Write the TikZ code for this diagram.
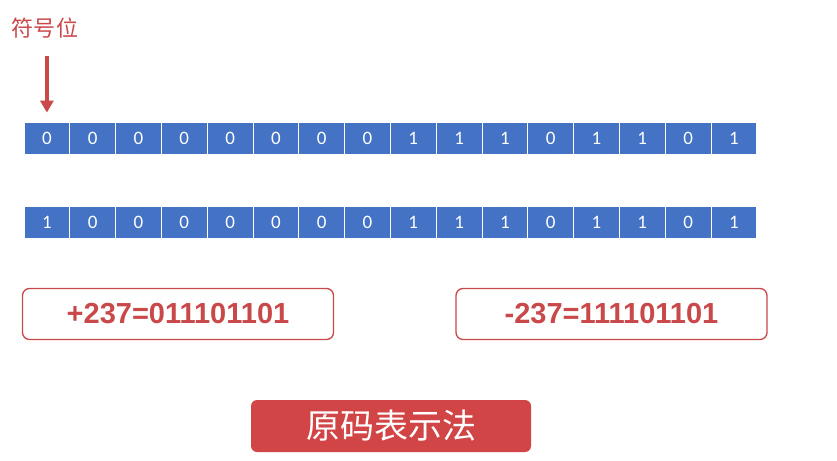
\documentclass[tikz,border=0pt]{standalone}
\usepackage{fontspec}
\setsansfont{Liberation Sans}
\newfontfamily\cjk{Noto Sans CJK SC}
\newfontfamily\cellfont{Carlito}
\usetikzlibrary{arrows.meta}

\definecolor{bitblue}{HTML}{4472C4}
\definecolor{signred}{HTML}{C9484A}
\definecolor{btnred}{HTML}{D24546}

\tikzset{
  bit/.style = {draw = white, line width = 0.8pt, fill = bitblue, text = white,
    minimum width = 45.8pt, minimum height = 32pt, inner sep = 0pt,
    font = \cellfont\fontsize{19}{19}\selectfont},
  codebox/.style = {draw = signred, line width = 1.3pt, rounded corners = 7pt,
    minimum width = 311pt, minimum height = 51pt, text = signred,
    font = \sffamily\bfseries\fontsize{29}{29}\selectfont},
}

\begin{document}
\begin{tikzpicture}[x = 1pt, y = -1pt]
        \useasboundingbox [fill = white] (0, 0) rectangle (837, 460);

        % positive number
        \node [bit] (a1) at (46.9, 138) {0};
        \node [bit] (a2) at (92.7, 138) {0};
        \node [bit] (a3) at (138.5, 138) {0};
        \node [bit] (a4) at (184.3, 138) {0};
        \node [bit] (a5) at (230.1, 138) {0};
        \node [bit] (a6) at (275.9, 138) {0};
        \node [bit] (a7) at (321.7, 138) {0};
        \node [bit] (a8) at (367.5, 138) {0};
        \node [bit] (a9) at (413.3, 138) {1};
        \node [bit] (a10) at (459.1, 138) {1};
        \node [bit] (a11) at (504.9, 138) {1};
        \node [bit] (a12) at (550.7, 138) {0};
        \node [bit] (a13) at (596.5, 138) {1};
        \node [bit] (a14) at (642.3, 138) {1};
        \node [bit] (a15) at (688.1, 138) {0};
        \node [bit] (a16) at (733.9, 138) {1};

        % negative number
        \node [bit] (b1) at (46.9, 222) {1};
        \node [bit] (b2) at (92.7, 222) {0};
        \node [bit] (b3) at (138.5, 222) {0};
        \node [bit] (b4) at (184.3, 222) {0};
        \node [bit] (b5) at (230.1, 222) {0};
        \node [bit] (b6) at (275.9, 222) {0};
        \node [bit] (b7) at (321.7, 222) {0};
        \node [bit] (b8) at (367.5, 222) {0};
        \node [bit] (b9) at (413.3, 222) {1};
        \node [bit] (b10) at (459.1, 222) {1};
        \node [bit] (b11) at (504.9, 222) {1};
        \node [bit] (b12) at (550.7, 222) {0};
        \node [bit] (b13) at (596.5, 222) {1};
        \node [bit] (b14) at (642.3, 222) {1};
        \node [bit] (b15) at (688.1, 222) {0};
        \node [bit] (b16) at (733.9, 222) {1};

        \node [text = signred, font = \cjk\fontsize{22}{22}\selectfont] (sign) at (45, 28) {符号位};
        \draw [signred, line width = 3.2pt, -{Triangle[width = 13pt, length = 12pt]},
          shorten < = 14pt, shorten > = 9pt] (sign.south -| a1) -- (a1.north);

        \node [codebox] (pos) at (178, 314) {+237=011101101};
        \node [codebox] (neg) at (611.5, 314) {-237=111101101};

        \node [fill = btnred, rounded corners = 6pt, minimum width = 280pt, minimum height = 52pt,
          text = white, font = \cjk\fontsize{34}{34}\selectfont] (title) at (391, 426) {原码表示法};
      \end{tikzpicture}
\end{document}
